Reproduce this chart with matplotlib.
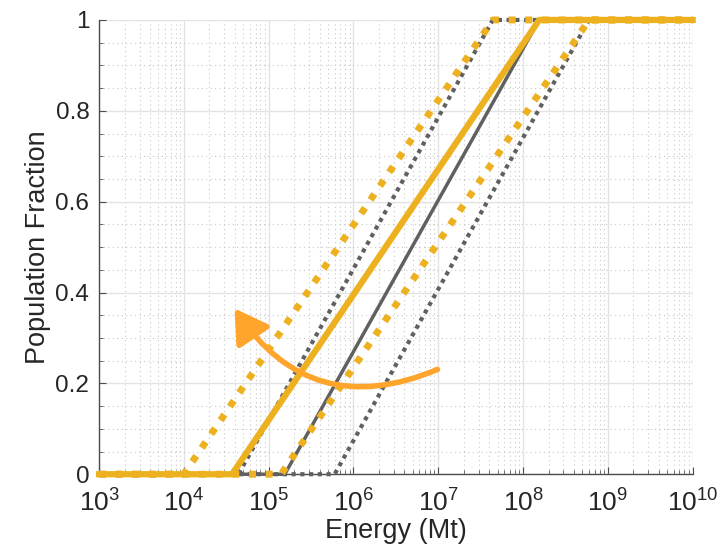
import numpy as np
import matplotlib.pyplot as plt
from matplotlib.patches import FancyArrowPatch
from matplotlib.ticker import LogLocator, NullFormatter

plt.rcParams['font.family'] = ['Liberation Sans', 'DejaVu Sans']

# onset / saturation energies (Mt) of each curve: [x0, start, end, x1] with y = [0, 0, 1, 1]
y_ramp = [0, 0, 1, 1]
gray_low = [1e3, 4.4e4, 4.4e7, 1e10]
gray_mid = [1e3, 1.55e5, 1.55e8, 1e10]
gray_high = [1e3, 6.0e5, 6.0e8, 1e10]
orange_low = [1e3, 1.0e4, 4.4e7, 1e10]
orange_mid = [1e3, 3.7e4, 1.55e8, 1e10]
orange_high = [1e3, 1.4e5, 6.0e8, 1e10]

gray = '#606060'
orange = '#EDB120'
arrow_col = '#FFA52C'

fig = plt.figure(figsize=(7.23, 5.54), dpi=100)
ax = fig.add_axes([0.137, 0.144, 0.821, 0.820])

ax.plot(gray_low, y_ramp, color=gray, lw=3, ls=(0, (1, 1.1)), zorder=3, clip_on=False)
ax.plot(gray_high, y_ramp, color=gray, lw=3, ls=(0, (1, 1.1)), zorder=3, clip_on=False)
ax.plot(gray_mid, y_ramp, color=gray, lw=2.5, zorder=3, clip_on=False)
ax.plot(orange_low, y_ramp, color=orange, lw=5, ls=(0, (1, 1.4)), zorder=4, clip_on=False)
ax.plot(orange_high, y_ramp, color=orange, lw=5, ls=(0, (1, 1.4)), zorder=4, clip_on=False)
ax.plot(orange_mid, y_ramp, color=orange, lw=4.5, zorder=5, clip_on=False)

ax.set_xscale('log')
ax.set_xlim(1e3, 1e10)
ax.set_ylim(0, 1)
ax.set_xticks([10.0**k for k in range(3, 11)])
ax.xaxis.set_minor_locator(LogLocator(base=10, subs=np.arange(2, 10), numticks=20))
ax.xaxis.set_minor_formatter(NullFormatter())
ax.set_yticks([0, 0.2, 0.4, 0.6, 0.8, 1])
ax.set_yticklabels(['0', '0.2', '0.4', '0.6', '0.8', '1'])
ax.set_yticks(np.arange(0, 1.0001, 0.05), minor=True)

ax.grid(True, which='major', color='#E3E3E3', lw=1)
ax.grid(True, which='minor', color='#C8C8C8', lw=0.8, ls=(0, (1, 3)))
ax.set_axisbelow(True)

for s in ['top', 'right']:
    ax.spines[s].set_visible(False)
for s in ['left', 'bottom']:
    ax.spines[s].set_color('#4D4D4D')
    ax.spines[s].set_linewidth(1)
ax.tick_params(which='both', direction='in', colors='#4D4D4D', labelcolor='#262626')
ax.tick_params(which='major', length=5)
ax.tick_params(which='minor', length=3)
ax.tick_params(axis='x', pad=11, labelsize=19)
ax.tick_params(axis='y', pad=7, labelsize=17.5)

ax.set_xlabel('Energy (Mt)', fontsize=19.5, color='#262626', labelpad=1)
ax.set_ylabel('Population Fraction', fontsize=19.5, color='#262626', labelpad=3)

arrow = FancyArrowPatch((1.05e7, 0.233), (3.8e4, 0.37), transform=ax.transData,
                        connectionstyle='arc3,rad=-0.42', arrowstyle='-|>,head_length=20,head_width=12',
                        color=arrow_col, lw=4, zorder=6)
ax.add_patch(arrow)

plt.savefig('out.png', dpi=100)
